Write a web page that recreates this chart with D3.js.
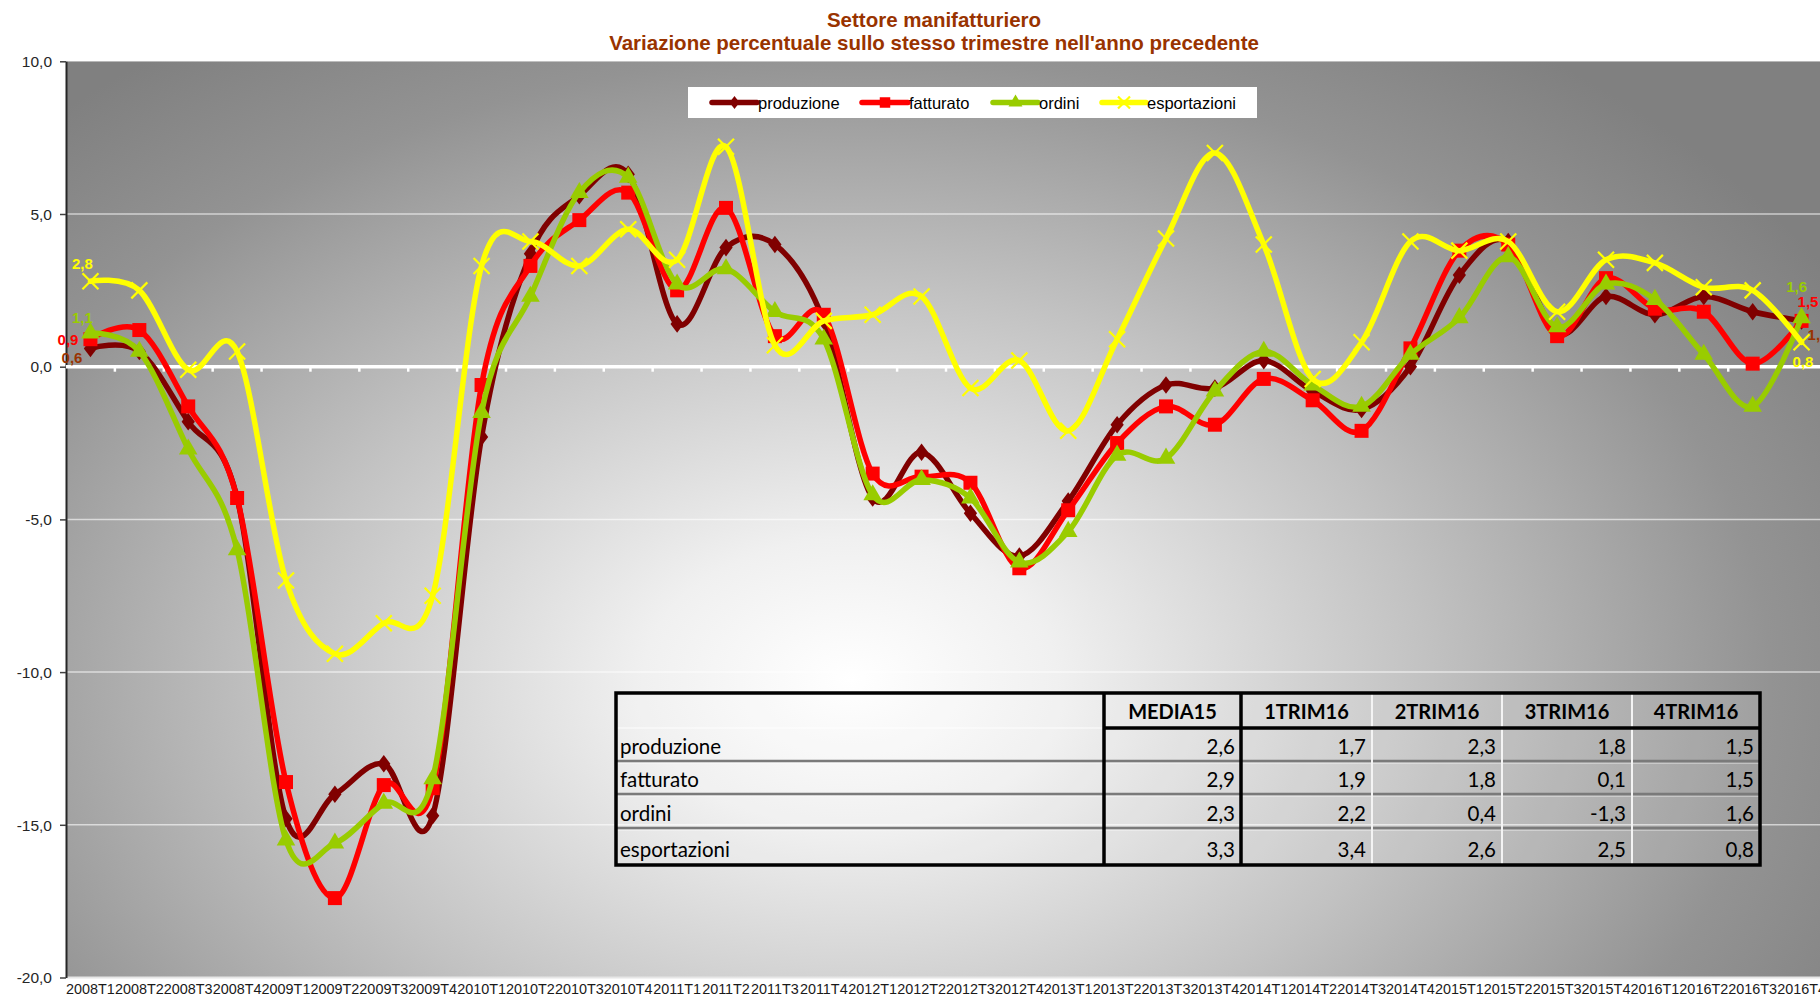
<!DOCTYPE html>
<html><head><meta charset="utf-8">
<script src="https://cdn.jsdelivr.net/npm/d3@7"></script>
<style>body{margin:0;background:#fff;overflow:hidden} svg{display:block}</style>
</head><body><svg id="c" width="1820" height="999"></svg>
<script>
// ---------------- DATA ----------------
const categories = ["2008T1","2008T2","2008T3","2008T4","2009T1","2009T2","2009T3","2009T4",
  "2010T1","2010T2","2010T3","2010T4","2011T1","2011T2","2011T3","2011T4",
  "2012T1","2012T2","2012T3","2012T4","2013T1","2013T2","2013T3","2013T4",
  "2014T1","2014T2","2014T3","2014T4","2015T1","2015T2","2015T3","2015T4",
  "2016T1","2016T2","2016T3","2016T4"];
const produzione = [0.6,0.5,-1.8,-4.3,-14.8,-14.0,-13.0,-14.7,-2.3,3.7,5.6,6.3,1.4,3.9,4.0,1.5,
  -4.3,-2.8,-4.8,-6.2,-4.4,-1.9,-0.6,-0.7,0.2,-0.8,-1.4,0.0,3.0,4.1,1.1,2.3,1.7,2.3,1.8,1.5];
const fatturato = [0.9,1.2,-1.3,-4.3,-13.6,-17.4,-13.7,-13.8,-0.6,3.3,4.8,5.7,2.5,5.2,1.0,1.7,
  -3.5,-3.6,-3.8,-6.6,-4.7,-2.5,-1.3,-1.9,-0.4,-1.1,-2.1,0.6,3.8,4.0,1.0,2.9,1.9,1.8,0.1,1.5];
const ordini = [1.1,0.5,-2.7,-6.0,-15.5,-15.6,-14.3,-13.5,-1.5,2.3,5.7,6.2,2.7,3.2,1.8,0.9,
  -4.2,-3.7,-4.3,-6.4,-5.4,-2.9,-3.0,-0.8,0.5,-0.6,-1.3,0.4,1.6,3.6,1.3,2.7,2.2,0.4,-1.3,1.6];
const esportazioni = [2.8,2.5,-0.1,0.5,-7.0,-9.4,-8.4,-7.5,3.3,4.1,3.3,4.5,3.5,7.2,0.7,1.5,
  1.7,2.3,-0.7,0.2,-2.1,0.9,4.2,7.0,4.0,-0.4,0.8,4.1,3.8,4.1,1.8,3.5,3.4,2.6,2.5,0.8];
const seriesNames = ["produzione","fatturato","ordini","esportazioni"];
const yTicks = [-20,-15,-10,-5,0,5,10];
const yDomain = [-20,10];
const titleLines = ["Settore manifatturiero","Variazione percentuale sullo stesso trimestre nell'anno precedente"];
const tableCols = ["MEDIA15","1TRIM16","2TRIM16","3TRIM16","4TRIM16"];
const tableRows = ["produzione","fatturato","ordini","esportazioni"];
const tabProduzione = [2.6,1.7,2.3,1.8,1.5];
const tabFatturato = [2.9,1.9,1.8,0.1,1.5];
const tabOrdini = [2.3,2.2,0.4,-1.3,1.6];
const tabEsportazioni = [3.3,3.4,2.6,2.5,0.8];

// ---------------- STYLE ----------------
const W = 1820, H = 999;
const plot = {left: 66, top: 61.3, right: 1826, bottom: 977.5};
const styles = {
  produzione:  {color:"#800000", label:"#993300", marker:"diamond", startOff:[-8,15,"end"],  endOff:[6,19,"start"]},
  fatturato:   {color:"#ff0000", label:"#ff0000", marker:"square",  startOff:[-12,6,"end"], endOff:[-4,-14,"start"]},
  ordini:      {color:"#99cc00", label:"#99cc00", marker:"triangle",startOff:[-8,-10,"middle"], endOff:[-5,-26,"middle"]},
  esportazioni:{color:"#ffff00", label:"#ffff00", marker:"x",       startOff:[-8,-12,"middle"], endOff:[-9,25,"start"]}
};
const seriesData = {produzione, fatturato, ordini, esportazioni};
const tableData = [tabProduzione, tabFatturato, tabOrdini, tabEsportazioni];

const loc = d3.formatLocale({decimal:",", thousands:".", grouping:[3], currency:["",""], minus:"-"});
const fmt = loc.format(".1f");

const svg = d3.select("#c");
const defs = svg.append("defs");
const cx = 850, cy = 680;
const rg = defs.append("radialGradient").attr("id","bg").attr("gradientUnits","userSpaceOnUse")
  .attr("cx",cx).attr("cy",cy).attr("r",1150)
  .attr("gradientTransform",`translate(${cx},${cy}) scale(1,0.68) translate(${-cx},${-cy})`);
[[0,"#ffffff"],[0.18,"#f0f0f0"],[0.5,"#c2c2c2"],[0.8,"#939393"],[1,"#808080"]].forEach(s=>
  rg.append("stop").attr("offset",s[0]).attr("stop-color",s[1]));

const x = d3.scaleBand().domain(categories).range([plot.left, plot.right]).padding(0);
const xc = c => x(c) + x.bandwidth()/2;
const y = d3.scaleLinear().domain(yDomain).range([plot.bottom, plot.top]);

// plot background
svg.append("rect").attr("x",plot.left).attr("y",plot.top)
  .attr("width",plot.right-plot.left).attr("height",plot.bottom-plot.top).attr("fill","url(#bg)");

// gridlines
svg.append("g").selectAll("line").data(yTicks.filter(t=>t!==0 && t!==-20 && t!==10)).join("line")
  .attr("x1",plot.left).attr("x2",plot.right).attr("y1",d=>y(d)).attr("y2",d=>y(d))
  .attr("stroke","rgba(255,255,255,0.6)").attr("stroke-width",1.5);
svg.append("line").attr("x1",plot.left).attr("x2",plot.right).attr("y1",y(10)).attr("y2",y(10))
  .attr("stroke","rgba(255,255,255,0.25)").attr("stroke-width",1);
svg.append("line").attr("x1",plot.left).attr("x2",plot.right).attr("y1",y(-20)).attr("y2",y(-20))
  .attr("stroke","#e6e6e6").attr("stroke-width",2);

// y axis
const yAxis = d3.axisLeft(y).tickValues(yTicks).tickFormat(fmt).tickSize(6).tickSizeOuter(0);
const gy = svg.append("g").attr("transform",`translate(${plot.left},0)`).call(yAxis);
gy.select(".domain").attr("stroke","#262626").attr("stroke-width",2);
gy.selectAll(".tick line").attr("stroke","#404040").attr("stroke-width",1.5);
gy.selectAll(".tick text").attr("font-family","Liberation Sans, Arial, sans-serif")
  .attr("font-size","15.5px").attr("fill","#262626").attr("x",-14).attr("dy","0.34em");

// zero line with boundary ticks
svg.append("line").attr("x1",plot.left).attr("x2",plot.right).attr("y1",y(0)).attr("y2",y(0))
  .attr("stroke","#ffffff").attr("stroke-width",3.5);
svg.append("g").selectAll("line").data(categories.slice(1)).join("line")
  .attr("x1",d=>x(d)).attr("x2",d=>x(d)).attr("y1",y(0)).attr("y2",y(0)+5)
  .attr("stroke","#ffffff").attr("stroke-width",2.5);

// x axis labels
const xAxis = d3.axisBottom(x).tickSize(0).tickSizeOuter(0);
const gx = svg.append("g").attr("transform",`translate(0,${plot.bottom})`).call(xAxis);
gx.select(".domain").remove();
gx.selectAll(".tick text").attr("font-family","Liberation Sans, Arial, sans-serif")
  .attr("font-size","14.4px").attr("fill","#1a1a1a").attr("y",6).attr("dy","0.71em");

// series
const line = d3.line().x((d,i)=>xc(categories[i])).y(d=>y(d)).curve(d3.curveCardinal.tension(0));
function drawMarker(g, type, px, py, color, scale=1) {
  if (type === "x") {
    const s = 8*scale;
    g.append("path").attr("d",`M${px-s},${py-s}L${px+s},${py+s}M${px-s},${py+s}L${px+s},${py-s}`)
      .attr("stroke",color).attr("stroke-width",2.2).attr("fill","none");
  } else {
    const map = {diamond:[d3.symbolDiamond,90], square:[d3.symbolSquare,196], triangle:[d3.symbolTriangle,150]};
    const [sym,size] = map[type];
    g.append("path").attr("d",d3.symbol().type(sym).size(size*scale*scale)())
      .attr("transform",`translate(${px},${py})${type==="diamond"?" scale(1.3,1)":""}`)
      .attr("fill",color);
  }
}
const labelFont = "Liberation Sans, Arial, sans-serif";
seriesNames.forEach(name=>{
  const st = styles[name], vals = seriesData[name];
  const g = svg.append("g");
  g.append("path").attr("d",line(vals)).attr("fill","none").attr("stroke",st.color)
    .attr("stroke-width",5.5).attr("stroke-linejoin","round").attr("stroke-linecap","round");
  vals.forEach((v,i)=>drawMarker(g, st.marker, xc(categories[i]), y(v), st.color));
});
// data labels (first & last)
seriesNames.forEach(name=>{
  const st = styles[name], vals = seriesData[name];
  const n = vals.length-1;
  [[0,st.startOff],[n,st.endOff]].forEach(([i,off])=>{
    svg.append("text").attr("x",xc(categories[i])+off[0]).attr("y",y(vals[i])+off[1])
      .attr("text-anchor",off[2]).attr("font-family",labelFont).attr("font-weight","bold")
      .attr("font-size","15px").attr("fill",st.label).text(fmt(vals[i]));
  });
});

// title
svg.append("g").selectAll("text").data(titleLines).join("text")
  .attr("x",934).attr("y",(d,i)=>27+i*23).attr("text-anchor","middle")
  .attr("font-family",labelFont).attr("font-weight","bold").attr("font-size","20.5px")
  .attr("fill","#993300").text(d=>d);

// legend
const lg = svg.append("g");
lg.append("rect").attr("x",688).attr("y",87).attr("width",569).attr("height",31).attr("fill","#ffffff");
const legPos = [[712,757],[862,908],[993,1038],[1102,1146]];
seriesNames.forEach((name,k)=>{
  const st = styles[name]; const [a,b] = legPos[k]; const ly = 102.5;
  lg.append("line").attr("x1",a).attr("x2",b).attr("y1",ly).attr("y2",ly)
    .attr("stroke",st.color).attr("stroke-width",5.5).attr("stroke-linecap","round");
  drawMarker(lg, st.marker, (a+b)/2, ly, st.color, 0.75);
  lg.append("text").attr("x",b+1).attr("y",ly+6).attr("font-family",labelFont)
    .attr("font-size","16.5px").attr("fill","#000").text(name);
});

// table
const colEdges = [616,1104,1241,1372,1502,1632,1760];
const rowEdges = [693,728,762,795,829,865];
const tg = svg.append("g");
tg.append("rect").attr("x",colEdges[0]).attr("y",rowEdges[0])
  .attr("width",colEdges[6]-colEdges[0]).attr("height",rowEdges[5]-rowEdges[0])
  .attr("fill","rgba(255,255,255,0.12)");
rowEdges.slice(2,5).forEach(ry=>{
  tg.append("line").attr("x1",colEdges[0]).attr("x2",colEdges[6]).attr("y1",ry-1).attr("y2",ry-1)
    .attr("stroke","#7a7a7a").attr("stroke-width",2.5);
  tg.append("line").attr("x1",colEdges[0]).attr("x2",colEdges[6]).attr("y1",ry+1.5).attr("y2",ry+1.5)
    .attr("stroke","rgba(255,255,255,0.35)").attr("stroke-width",1);
});
tg.append("line").attr("x1",colEdges[0]).attr("x2",colEdges[1]).attr("y1",rowEdges[1]).attr("y2",rowEdges[1])
  .attr("stroke","rgba(255,255,255,0.45)").attr("stroke-width",2);
[3,4,5].forEach(c=>tg.append("line").attr("x1",colEdges[c]).attr("x2",colEdges[c])
  .attr("y1",rowEdges[0]).attr("y2",rowEdges[5]).attr("stroke","#f4f4f4").attr("stroke-width",2));
tg.append("line").attr("x1",colEdges[1]).attr("x2",colEdges[6]).attr("y1",rowEdges[1]).attr("y2",rowEdges[1])
  .attr("stroke","#000").attr("stroke-width",3.5);
[1,2].forEach(c=>tg.append("line").attr("x1",colEdges[c]).attr("x2",colEdges[c])
  .attr("y1",rowEdges[0]).attr("y2",rowEdges[5]).attr("stroke","#000").attr("stroke-width",3.5));
tg.append("rect").attr("x",colEdges[0]).attr("y",rowEdges[0])
  .attr("width",colEdges[6]-colEdges[0]).attr("height",rowEdges[5]-rowEdges[0])
  .attr("fill","none").attr("stroke","#000").attr("stroke-width",3.5);
const tFont = "Lato, 'Open Sans', sans-serif";
tableCols.forEach((c,j)=>{
  tg.append("text").attr("x",(colEdges[j+1]+colEdges[j+2])/2).attr("y",rowEdges[1]-9)
    .attr("text-anchor","middle").attr("font-family",tFont).attr("font-weight","bold")
    .attr("font-size","20px").attr("fill","#000").text(c);
});
tableRows.forEach((r,i)=>{
  const by = rowEdges[i+2]-8;
  tg.append("text").attr("x",colEdges[0]+4).attr("y",by).attr("font-family",tFont)
    .attr("font-size","20.5px").attr("fill","#000").text(r);
  tableData[i].forEach((v,j)=>{
    tg.append("text").attr("x",colEdges[j+2]-6).attr("y",by).attr("text-anchor","end")
      .attr("font-family",tFont).attr("font-size","20.5px").attr("fill","#000").text(fmt(v));
  });
});
</script></body></html>
